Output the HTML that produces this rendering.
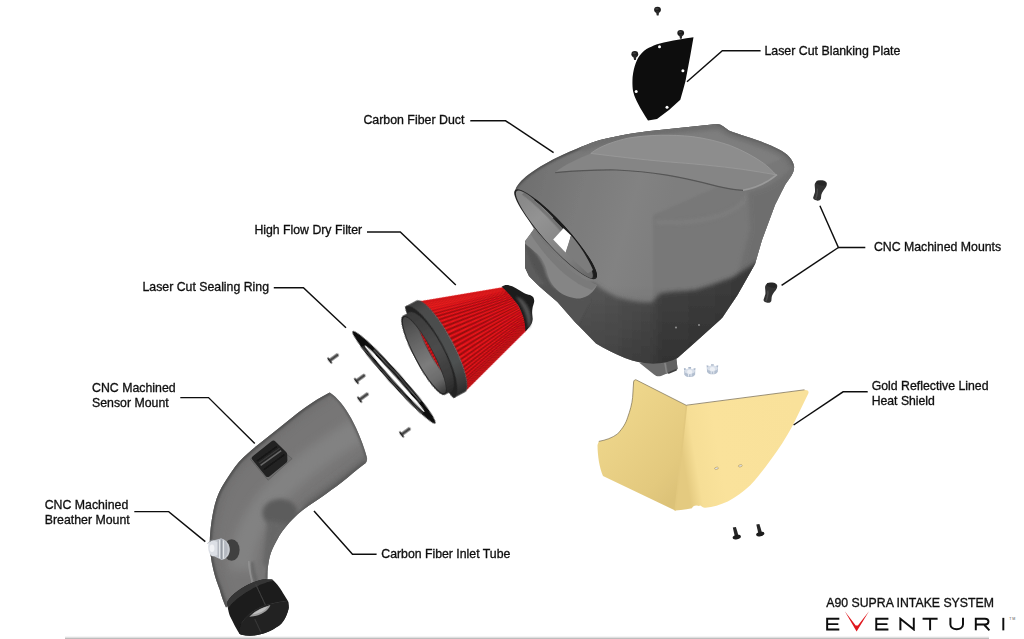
<!DOCTYPE html>
<html><head><meta charset="utf-8"><title>A90 Supra Intake System</title>
<style>html,body{margin:0;padding:0;background:#fff;overflow:hidden}svg{display:block}text{font-family:"Liberation Sans",sans-serif}</style>
</head><body>
<svg width="1024" height="639" viewBox="0 0 1024 639">
<defs>
<filter id="b05" x="-10%" y="-10%" width="120%" height="120%"><feGaussianBlur stdDeviation="0.5"/></filter>
<filter id="b1" x="-10%" y="-10%" width="120%" height="120%"><feGaussianBlur stdDeviation="1"/></filter>
<filter id="b2" x="-20%" y="-20%" width="140%" height="140%"><feGaussianBlur stdDeviation="2"/></filter>
<filter id="b4" x="-30%" y="-30%" width="160%" height="160%"><feGaussianBlur stdDeviation="4"/></filter>
<filter id="b8" x="-50%" y="-50%" width="200%" height="200%"><feGaussianBlur stdDeviation="8"/></filter>
<filter id="txt" x="-2%" y="-2%" width="104%" height="104%"><feGaussianBlur stdDeviation="0.3"/></filter>
<filter id="soft" x="-5%" y="-5%" width="110%" height="110%"><feGaussianBlur stdDeviation="0.45"/></filter>

<linearGradient id="ductTop" gradientUnits="userSpaceOnUse" x1="520" y1="200" x2="660" y2="240">
 <stop offset="0" stop-color="#707070"/><stop offset="0.35" stop-color="#7a7a7a"/><stop offset="0.75" stop-color="#828282"/><stop offset="1" stop-color="#7e7e7e"/>
</linearGradient>
<linearGradient id="ductLow" gradientUnits="userSpaceOnUse" x1="560" y1="300" x2="745" y2="300">
 <stop offset="0" stop-color="#5a5a5a"/><stop offset="0.3" stop-color="#525252"/><stop offset="0.5" stop-color="#4a4a4a"/><stop offset="0.53" stop-color="#424242"/><stop offset="1" stop-color="#383838"/>
</linearGradient>
<linearGradient id="ductLowV" gradientUnits="userSpaceOnUse" x1="0" y1="285" x2="0" y2="365">
 <stop offset="0" stop-color="#000" stop-opacity="0"/><stop offset="1" stop-color="#000" stop-opacity="0.22"/>
</linearGradient>
<linearGradient id="mouthInL" gradientUnits="userSpaceOnUse" x1="-58" y1="0" x2="58" y2="0">
 <stop offset="0" stop-color="#858585"/><stop offset="0.3" stop-color="#939393"/><stop offset="0.5" stop-color="#8a8a8a"/><stop offset="0.75" stop-color="#7c7c7c"/><stop offset="1" stop-color="#666"/>
</linearGradient>
<clipPath id="ductClip"><path id="ductPath" d="M515.5,189.5 C520,178 540,166 556,158 C575,149 590,143 600,140 C620,135 640,132 650,131 L717,124 C722,124 726,129 730,131 C740,135 760,140 775,147.5 C785,152 792,157 794,166 C795,172 790,178 785,185 C780,195 776,203 775,205 L762,240 755,264 737.5,295 722.5,317.5 720,320 695,342.5 677.5,358 C665,365 645,366 625,358 C615,354 605,349 596,343.5 L575,322 557.5,302 540,287 529,276 525,267.5 525,241 534,229 520,205Z"/></clipPath>

<linearGradient id="hsL" gradientUnits="userSpaceOnUse" x1="600" y1="400" x2="690" y2="480">
 <stop offset="0" stop-color="#f0d98e"/><stop offset="0.45" stop-color="#e9d085"/><stop offset="0.8" stop-color="#e3c97e"/><stop offset="1" stop-color="#dcc278"/>
</linearGradient>
<linearGradient id="hsR" gradientUnits="userSpaceOnUse" x1="680" y1="440" x2="800" y2="420">
 <stop offset="0" stop-color="#e4ca80"/><stop offset="0.1" stop-color="#f6de96"/><stop offset="0.3" stop-color="#fae29b"/><stop offset="1" stop-color="#f9e19a"/>
</linearGradient>

<linearGradient id="flangeG" gradientUnits="userSpaceOnUse" x1="-6" y1="-52" x2="-6" y2="52">
 <stop offset="0" stop-color="#3c3c3c"/><stop offset="0.12" stop-color="#4b4c4c"/><stop offset="0.7" stop-color="#4e5151"/><stop offset="0.9" stop-color="#3a3a3a"/><stop offset="1" stop-color="#2a2a2a"/>
</linearGradient>
<linearGradient id="neckOutG" gradientUnits="userSpaceOnUse" x1="-18" y1="-44" x2="-14" y2="44">
 <stop offset="0" stop-color="#3a3a3a"/><stop offset="0.5" stop-color="#4c4c4c"/><stop offset="0.85" stop-color="#3a3a3a"/><stop offset="1" stop-color="#2a2a2a"/>
</linearGradient>
<linearGradient id="neckIn" gradientUnits="userSpaceOnUse" x1="-30" y1="-42" x2="-24" y2="42">
 <stop offset="0" stop-color="#454545"/><stop offset="0.3" stop-color="#626262"/><stop offset="0.62" stop-color="#7c7c7c"/><stop offset="0.85" stop-color="#6a6a6a"/><stop offset="1" stop-color="#3e3e3e"/>
</linearGradient>

<clipPath id="tubeClip"><path d="M329.7,392.5 C337,397 345,407 351,418 C358,431 364,446 367,458 C367.5,461 366,463 364,464.3 C356,470.5 349,476.5 342.4,481.8 C335,487.5 328,492.5 320.9,497.4 L309,505.5 C301,511 295,516.5 289.4,522.5 C284,528.5 280,534 277,540 C273.5,546 271,551.5 269.5,557.5 C268,564 267.3,571 267.5,579 L226,607.5 C223,601 221.5,596 219.7,589.5 C216.5,581 214.5,575 213.3,569.5 C211,560 209.8,551 209.8,542 C210,530 212,516 214.7,505 C217,496 220.5,488.5 225,481.8 C229,475.5 233.5,468.5 238.7,462.2 C245,455.5 251,450.5 258.3,444.6 L277.8,428.9 C287,421.5 296,414 305.2,407.4 C313,402 321,397 329.7,392.5Z"/></clipPath>
<linearGradient id="tubeG" gradientUnits="userSpaceOnUse" x1="250" y1="440" x2="330" y2="520">
 <stop offset="0" stop-color="#585858"/><stop offset="0.18" stop-color="#6e6e6e"/><stop offset="0.45" stop-color="#7e7e7e"/><stop offset="0.7" stop-color="#707070"/><stop offset="1" stop-color="#4e4e4e"/>
</linearGradient>
</defs>
<rect width="1024" height="639" fill="#fff"/>

<g id="duct" filter="url(#soft)">
 <!-- protrusion below -->
 <path d="M639.6,363 L654,374.4 C656,376.2 658.6,376.8 661,376 L677.6,369 L676,356 Z" fill="#6b6b6b"/>
 <path d="M666.4,360 L668,373.2 677.6,369 676,356Z" fill="#626262"/>
 <path d="M664.6,361 L666.8,373.8" stroke="#858585" stroke-width="1.5" fill="none" filter="url(#b05)"/>
 <path d="M668,372.4 L676.6,368.8 676.8,370.4 668.4,374Z" fill="#3c3c3c"/>
 <g clip-path="url(#ductClip)">
  <rect x="500" y="110" width="310" height="280" fill="url(#ductTop)"/>
  <!-- right of crease -->
  <path d="M653,215 L800,150 800,300 653,305Z" fill="#787878" filter="url(#b1)"/>
  <!-- top-left outer edge darker band -->
  <path d="M513,192 C520,178 540,166 556,158 C575,149 590,143 600,140 C620,135 640,132 650,131 L717,124" fill="none" stroke="#4c4c4c" stroke-width="3.4" filter="url(#b1)"/>
  <!-- rim band near silhouette -->
  <path d="M580,147 C600,140 640,132 650,131 L717,124 C722,124 726,129 730,131 C740,135 760,140 775,147.5 C785,152 792,157 794,166" fill="none" stroke="#6e6e6e" stroke-width="11" filter="url(#b2)"/>
  <!-- leaves -->
  <path d="M555.2,172.2 C565,165 578,158.6 590.8,153.6 C615,156.6 640,159.6 667,162 C692,163.8 718,166.2 743,169.6 C754,171.2 765,173.2 776,175 C768,182 757,188 743,190 C734,189.6 726,188 717.7,186 C700,181.4 684,177.6 667,174.8 C650,172 633,170.2 616,169.6 C596,169.4 575,170.4 555.2,172.2Z" fill="#858585" filter="url(#b05)"/>
  <path d="M590.8,153.4 C600,146 615,141 628.8,138 C650,134.6 672,134.6 692.3,136.6 C706,138.4 719,141.6 730.4,145.6 C743,150.6 754,156.6 763.4,163.2 C768,166.6 772,170.4 776,174.8 C765,173 754,171 743,169.4 C718,166 692,163.6 667,161.8 C640,159.4 615,156.4 590.8,153.4Z" fill="#8d8d8d" stroke="#989898" stroke-width="0.9" filter="url(#b05)"/>
  <!-- crease lines -->
  <path d="M555.2,172.6 C575,170.8 596,169.8 616,170 C633,170.6 650,172.4 667,175.2 C684,178 700,181.8 717.7,186.4 C726,188.4 734,190 743,190.4" fill="none" stroke="#565656" stroke-width="1.2" filter="url(#b05)"/>
  <path d="M743,190.2 C757,188 768,182 777,174.6" fill="none" stroke="#9c9c9c" stroke-width="1.6" filter="url(#b05)"/>
  <path d="M748,194 C740,215 700,225 655,222" fill="none" stroke="#858585" stroke-width="3" opacity="0.6" filter="url(#b2)"/>
  <!-- right side face -->
  <path d="M748,192 C765,190 782,180 798,160 L800,200 760,290 735,285 750,230Z" fill="#6e6e6e" filter="url(#b2)"/>
  <!-- top right dark rim -->
  <path d="M717,124 C722,124 726,129 730,131 C740,135 760,140 775,147.5 C785,152 792,157 794,166" fill="none" stroke="#5c5c5c" stroke-width="2" filter="url(#b1)"/>
  <!-- lower dark band -->
  <path d="M588,284 L594,283 C602,290 610,294 618,297.5 C630,301 642,303 652,302.5 L660,293.5 C675,291 690,291 695,290 C710,286 722,281 732.5,277.5 L757,262 800,280 700,400 560,380 540,290Z" fill="url(#ductLow)" filter="url(#b2)"/>
  <path d="M540,284 L800,262 800,400 540,400Z" fill="url(#ductLowV)"/>
  <!-- region under the lip -->
  <path d="M520,240 L526,244 C534,250 540,258 544,268 C546,276 550,284 556,290 C566,297 576,299 584,298 L590,300 575,330 520,290Z" fill="#525252" filter="url(#b1)"/>
  <path d="M520,244 L527,250 C530,262 536,274 546,284 L520,290Z" fill="#5c5c5c" filter="url(#b1)"/>
  <!-- lip lighter band under mouth -->
  <path d="M524.5,243 L533.5,228.5 C548,252 572,276 597,285 C594,292 588,297 580,298.6 C570,298.4 562,295 556.5,289.5 C550,283 548,276 546.5,269.5 C544,261 540,255.5 535,252 C531,248.5 528,246 524.5,243Z" fill="#858585" filter="url(#b05)"/>
  <path d="M533.5,228.5 C548,252 572,276 597,285 L592,290 C568,282 546,258 530.5,234Z" fill="#777" opacity="0.8" filter="url(#b05)"/>
  <!-- small dots -->
  <circle cx="676" cy="327.5" r="1.1" fill="#8a8a8a"/><circle cx="699" cy="325" r="1.1" fill="#8a8a8a"/>
 </g>
 <!-- mouth -->
 <g transform="translate(555.6,234.2) rotate(47.6)">
  <ellipse cx="0" cy="0" rx="60" ry="12" fill="#242424"/>
  <clipPath id="mouthClip"><ellipse cx="0" cy="0" rx="59.5" ry="11.6"/></clipPath>
  <g clip-path="url(#mouthClip)">
   <ellipse cx="-0.5" cy="1.2" rx="57.6" ry="10.6" fill="url(#mouthInL)" transform="rotate(1.6)"/>
   <path d="M-52,-5.4 C-30,-9.6 -5,-10 20,-7.6 L20,-4.6 C-5,-6.6 -30,-6 -52,-2Z" fill="#5e5e5e" opacity="0.55" filter="url(#b05)"/>
  </g>
  <clipPath id="mouthClip2"><ellipse cx="0" cy="0" rx="60" ry="12"/></clipPath>
  <g clip-path="url(#mouthClip2)"><path d="M-14,-11.67 A60,12 0 0 1 59.8,-1" stroke="#1a1a1a" stroke-width="5.8" fill="none"/><path d="M-40,-8.94 A60,12 0 0 1 -14,-11.67" stroke="#1a1a1a" stroke-width="3.4" fill="none"/></g>
 </g>
</g>

<path d="M553.2,239.6 L563.5,228.2 571,235.6 565.6,252.6 Z" fill="#fff" filter="url(#soft)"/>
<path d="M565.8,252.6 L571.2,235.6 C580,246 588,258 593,270 L588,273.6 C582,268 572,259 565.8,252.6Z" fill="#7c7c7c" filter="url(#soft)"/>

<g id="plate">
 <path d="M693.5,37.3 C685,38.5 672,40.5 659,43.8 C652,46 645,49 641,54 C637,58 634,66 632.6,77 C632.2,84 632.6,90 633.6,93 C635,99 640,108 648,120.6 L657,119 C661,116 665,113 669,110 L680.3,99.8 C682,94 684,87 685.4,81.5 L690.4,55Z" fill="#0d0d0d"/>
 <circle cx="659.5" cy="46.8" r="1.5" fill="#fff"/><circle cx="682.9" cy="70.7" r="1.5" fill="#fff"/>
 <circle cx="636.2" cy="91.6" r="1.5" fill="#fff"/><circle cx="667" cy="107.3" r="1.5" fill="#fff"/>
</g>
<g transform="translate(657.5,9.8) scale(1.1)" filter="url(#soft)"><ellipse cx="0" cy="0" rx="3.1" ry="2.8" fill="#1c1c1c"/><path d="M-1.6,1 L1.6,1 1,5.2 -0.6,5.2Z" fill="#2a2a2a"/><ellipse cx="-0.5" cy="-0.8" rx="1.6" ry="1" fill="#3a3a3a"/></g>
<g transform="translate(680.7,33) scale(1.1)" filter="url(#soft)"><ellipse cx="0" cy="0" rx="3.1" ry="2.8" fill="#1c1c1c"/><path d="M-1.6,1 L1.6,1 1,5.2 -0.6,5.2Z" fill="#2a2a2a"/><ellipse cx="-0.5" cy="-0.8" rx="1.6" ry="1" fill="#3a3a3a"/></g>
<g transform="translate(634.8,54.2) scale(1.1)" filter="url(#soft)"><ellipse cx="0" cy="0" rx="3.1" ry="2.8" fill="#1c1c1c"/><path d="M-1.6,1 L1.6,1 1,5.2 -0.6,5.2Z" fill="#2a2a2a"/><ellipse cx="-0.5" cy="-0.8" rx="1.6" ry="1" fill="#3a3a3a"/></g>
<g transform="translate(820,190.5)" filter="url(#soft)">
 <path d="M-5.3,-4.9 C-5.5,-8 -3,-9.8 0.6,-10.2 C4,-10.4 6.8,-9 6.9,-6.7 C6.8,-4 5,-2 3.8,-0.5 C2.4,1.6 1.6,3 1.3,4.5 L0.9,8.3 C0.4,10 -2,10.6 -3.1,10.1 C-5.4,9.6 -7,8.4 -6.9,7.3 L-5,1.4 C-4.8,-0.6 -5.2,-3 -5.3,-4.9Z" fill="#303030"/>
 <ellipse cx="1" cy="-7.4" rx="5" ry="2.2" fill="#262626" transform="rotate(12 1 -7.4)"/>
 <path d="M-2.6,-2 C-2,2 -3.4,6 -4.4,8.6" stroke="#484848" stroke-width="1.6" fill="none" filter="url(#b05)"/>
</g>
<g transform="translate(770.4,292.6)" filter="url(#soft)">
 <path d="M-5.3,-4.9 C-5.5,-8 -3,-9.8 0.6,-10.2 C4,-10.4 6.8,-9 6.9,-6.7 C6.8,-4 5,-2 3.8,-0.5 C2.4,1.6 1.6,3 1.3,4.5 L0.9,8.3 C0.4,10 -2,10.6 -3.1,10.1 C-5.4,9.6 -7,8.4 -6.9,7.3 L-5,1.4 C-4.8,-0.6 -5.2,-3 -5.3,-4.9Z" fill="#303030"/>
 <ellipse cx="1" cy="-7.4" rx="5" ry="2.2" fill="#262626" transform="rotate(12 1 -7.4)"/>
 <path d="M-2.6,-2 C-2,2 -3.4,6 -4.4,8.6" stroke="#484848" stroke-width="1.6" fill="none" filter="url(#b05)"/>
</g>
<g transform="translate(689.7,372.6)" filter="url(#soft)">
 <path d="M-5.6,-2.2 L-5.4,1.6 C-4.6,5.4 4.6,5.4 5.4,1.6 L5.6,-2.2Z" fill="#b3bfd0"/>
 <path d="M-5.6,-2.4 L-5.8,-4.6 -3.8,-4 -3.2,-2 Z M5.6,-2.4 L5.8,-4.6 3.8,-4 3.2,-2Z M-1.2,-3 L-1.4,-5.6 1.4,-5.6 1.2,-3Z" fill="#a9b6c9"/>
 <ellipse cx="0" cy="-1.6" rx="5.2" ry="2.6" fill="#d8dfea"/>
 <ellipse cx="0" cy="-0.6" rx="2.6" ry="2.2" fill="#eef1f6"/>
 <path d="M-1.2,0.6 L-1.2,4 M1.4,0.6 L1.4,4" stroke="#e4e9f1" stroke-width="1" fill="none"/>
</g>
<g transform="translate(712.4,369.8)" filter="url(#soft)">
 <path d="M-5.6,-2.2 L-5.4,1.6 C-4.6,5.4 4.6,5.4 5.4,1.6 L5.6,-2.2Z" fill="#b3bfd0"/>
 <path d="M-5.6,-2.4 L-5.8,-4.6 -3.8,-4 -3.2,-2 Z M5.6,-2.4 L5.8,-4.6 3.8,-4 3.2,-2Z M-1.2,-3 L-1.4,-5.6 1.4,-5.6 1.2,-3Z" fill="#a9b6c9"/>
 <ellipse cx="0" cy="-1.6" rx="5.2" ry="2.6" fill="#d8dfea"/>
 <ellipse cx="0" cy="-0.6" rx="2.6" ry="2.2" fill="#eef1f6"/>
 <path d="M-1.2,0.6 L-1.2,4 M1.4,0.6 L1.4,4" stroke="#e4e9f1" stroke-width="1" fill="none"/>
</g>

<g id="shield" filter="url(#soft)">
 <path d="M636.4,380 L686.5,405.4 L675.2,510.5 L603,476 C599.5,468 597.6,456 597.5,445 L598.8,441.4 C606,440 612,438 617.6,433.9 C623,428 626,423 627.6,417.6 C630,411 632,404 632.6,397.6 L633.6,382 C634,380 635,379.4 636.4,380Z" fill="url(#hsL)"/>
 <path d="M686.5,405.4 L804.5,390 C807.5,389.7 809.3,391.2 808.3,393.4 L793,425.1 C786,438 779,449 770.4,460.2 C764,469 757,478 750.3,485.3 C743,492 736,497 727.8,501.5 C720,505 713,507 705.3,507.8 C703,508 702,506.5 700.4,505.6 C699,505.6 698.4,506.4 697.7,507 C690,509 683,510 675.2,510.5Z" fill="url(#hsR)"/>
 <path d="M686.5,405.4 L675.2,510.5" stroke="#e2c87e" stroke-width="1.6" fill="none"/><ellipse cx="696.4" cy="509.4" rx="4.6" ry="4" fill="#fff"/>
 <path d="M598.8,441.4 C606,440 612,438 617.6,433.9 C623,428 626,423 627.6,417.6 C630,411 632,404 632.6,397.6 L633.6,382 C634,380 635,379.4 636.4,380 L686.5,405.4" stroke="#6b6046" stroke-width="0.8" fill="none" opacity="0.8"/><path d="M686.5,405.2 L804.5,389.8" stroke="#7d7052" stroke-width="0.9" fill="none" opacity="0.85"/>
 <ellipse cx="716.5" cy="468.3" rx="2" ry="1.1" fill="#dfe3ea" stroke="#b59c5c" stroke-width="0.6" transform="rotate(-15 716.5 468.3)"/>
 <ellipse cx="740.3" cy="465.8" rx="2" ry="1.1" fill="#dfe3ea" stroke="#b59c5c" stroke-width="0.6" transform="rotate(-15 740.3 465.8)"/>
</g>
<g transform="translate(736.7,536.8)" filter="url(#soft)"><path d="M-3.9,-9.3 L-0.8,-9.9 2,-0.6 -1.8,0Z" fill="#262626"/><ellipse cx="0" cy="0.3" rx="4.2" ry="2.1" fill="#1a1a1a" transform="rotate(-12)"/></g>
<g transform="translate(760.2,533.8)" filter="url(#soft)"><path d="M-3.9,-9.3 L-0.8,-9.9 2,-0.6 -1.8,0Z" fill="#262626"/><ellipse cx="0" cy="0.3" rx="4.2" ry="2.1" fill="#1a1a1a" transform="rotate(-12)"/></g>
<g id="filter" transform="translate(440.7,346.9) rotate(-28)">
<clipPath id="coneClip"><path d="M0,-51.0 L82.5,-23.6 A5.95,24.8 0 0 1 82.5,26.0 L0,51.0 A12.24,51.0 0 0 0 0,-51.0Z"/></clipPath>
<path d="M0,-51.0 L82.5,-23.6 A5.95,24.8 0 0 1 82.5,26.0 L0,51.0 A12.24,51.0 0 0 0 0,-51.0Z" fill="#ea181c" filter="url(#soft)"/>
<g clip-path="url(#coneClip)" filter="url(#soft)">
<path d="M0.25,-50.99 L82.62,-23.59 82.90,-23.55 0.81,-50.89Z M1.38,-50.68 L83.17,-23.44 83.44,-23.29 1.94,-50.36Z M2.49,-49.93 L83.71,-23.08 83.98,-22.82 3.04,-49.40Z M3.59,-48.76 L84.24,-22.51 84.51,-22.15 4.12,-48.02Z M4.65,-47.17 L84.76,-21.74 85.01,-21.28 5.17,-46.23Z M5.68,-45.18 L85.26,-20.77 85.50,-20.22 6.17,-44.04Z M6.65,-42.81 L85.74,-19.62 85.96,-18.97 7.12,-41.48Z M7.57,-40.07 L86.18,-18.28 86.39,-17.55 8.01,-38.57Z M8.43,-36.98 L86.60,-16.78 86.79,-15.98 8.83,-35.32Z M9.21,-33.59 L86.98,-15.13 87.16,-14.25 9.57,-31.78Z M9.92,-29.90 L87.32,-13.34 87.48,-12.40 10.24,-27.96Z M10.54,-25.96 L87.62,-11.42 87.76,-10.42 10.81,-23.91Z M11.07,-21.80 L87.88,-9.40 87.99,-8.35 11.30,-19.65Z M11.50,-17.45 L88.09,-7.29 88.18,-6.20 11.68,-15.22Z M11.84,-12.96 L88.26,-5.10 88.32,-3.99 11.97,-10.66Z M12.07,-8.35 L88.37,-2.86 88.41,-1.73 12.15,-6.02Z M12.21,-3.67 L88.44,-0.59 88.45,0.56 12.24,-1.32Z M12.24,1.04 L88.45,1.70 88.44,2.85 12.21,3.39Z M12.16,5.74 L88.41,3.99 88.38,5.12 12.09,8.07Z M11.98,10.39 L88.33,6.25 88.27,7.37 11.86,12.68Z M11.70,14.95 L88.19,8.47 88.10,9.56 11.52,17.19Z M11.32,19.39 L88.01,10.63 87.89,11.68 11.09,21.54Z M10.84,23.66 L87.77,12.70 87.64,13.71 10.57,25.72Z M10.27,27.72 L87.50,14.68 87.34,15.63 9.96,29.67Z M9.62,31.56 L87.18,16.54 87.00,17.43 9.26,33.37Z M8.88,35.12 L86.82,18.28 86.62,19.09 8.48,36.79Z M8.06,38.38 L86.42,19.86 86.21,20.60 7.63,39.89Z M7.18,41.32 L85.99,21.29 85.76,21.94 6.71,42.65Z M6.23,43.90 L85.53,22.55 85.29,23.11 5.74,45.05Z M5.23,46.11 L85.04,23.62 84.79,24.09 4.72,47.06Z M4.19,47.92 L84.54,24.50 84.28,24.87 3.65,48.68Z M3.11,49.33 L84.01,25.19 83.74,25.45 2.56,49.87Z M2.00,50.31 L83.47,25.67 83.20,25.83 1.44,50.64Z M0.88,50.87 L82.93,25.94 82.65,25.99 0.32,50.98Z" fill="#960a10"/>
<path d="M0,-51.0 L82.5,-24.8 L82.5,-17.8 L0,-37.0Z" fill="#ee1a1c" opacity="0.55" filter="url(#b2)"/>
<path d="M0,51.0 L82.5,24.8 L82.5,18.8 L0,41.0Z" fill="#b00d12" opacity="0.4" filter="url(#b2)"/>
</g>
<g transform="translate(0,-0.5)">
<path d="M-12,-51.7 L0.3,-51.7 A12.40,51.7 0 0 1 0.3,51.7 L-12,51.7 A4.00,51.7 0 0 1 -12,-51.7Z" fill="url(#flangeG)" filter="url(#soft)"/>
<path d="M-12,-51.7 A14.6,51.7 0 0 1 -12,51.7 A4,51.7 0 0 1 -12,-51.7Z" fill="#242424" filter="url(#soft)"/>
<path d="M-18.6,-44.6 L-12,-45 A13.40,45 0 0 1 -12,45 L-18.6,44.6 A9.40,44.6 0 0 1 -18.6,-44.6Z" fill="url(#neckOutG)" filter="url(#soft)"/>
<ellipse cx="-18.6" cy="0" rx="9.4" ry="44.6" fill="#222" filter="url(#soft)"/>
<clipPath id="neckClip"><ellipse cx="-18.3" cy="0.1" rx="8.7" ry="43"/></clipPath>
<g clip-path="url(#neckClip)" filter="url(#soft)">
<rect x="-40" y="-50" width="50" height="100" fill="url(#neckIn)"/>
<ellipse cx="-3" cy="-1.8" rx="9.8" ry="40.5" fill="#383838"/>
<ellipse cx="-2.6" cy="-1.8" rx="9.6" ry="39.8" fill="#d8141a"/>
<clipPath id="deepClip"><ellipse cx="-2.6" cy="-1.8" rx="9.6" ry="39.8"/></clipPath><g clip-path="url(#deepClip)">
<path d="M-20,-38.0 L2,-40.0" stroke="#8e0a0e" stroke-width="1.3" fill="none"/>
<path d="M-20,-34.6 L2,-36.6" stroke="#8e0a0e" stroke-width="1.3" fill="none"/>
<path d="M-20,-31.2 L2,-33.2" stroke="#8e0a0e" stroke-width="1.3" fill="none"/>
<path d="M-20,-27.8 L2,-29.8" stroke="#8e0a0e" stroke-width="1.3" fill="none"/>
<path d="M-20,-24.4 L2,-26.4" stroke="#8e0a0e" stroke-width="1.3" fill="none"/>
<path d="M-20,-21.0 L2,-23.0" stroke="#8e0a0e" stroke-width="1.3" fill="none"/>
<path d="M-20,-17.6 L2,-19.6" stroke="#8e0a0e" stroke-width="1.3" fill="none"/>
<path d="M-20,-14.2 L2,-16.2" stroke="#8e0a0e" stroke-width="1.3" fill="none"/>
<path d="M-20,-10.8 L2,-12.8" stroke="#8e0a0e" stroke-width="1.3" fill="none"/>
<path d="M-20,-7.4 L2,-9.4" stroke="#8e0a0e" stroke-width="1.3" fill="none"/>
<path d="M-20,-4.0 L2,-6.0" stroke="#8e0a0e" stroke-width="1.3" fill="none"/>
<path d="M-20,-0.6 L2,-2.6" stroke="#8e0a0e" stroke-width="1.3" fill="none"/>
<path d="M-20,2.8 L2,0.8" stroke="#8e0a0e" stroke-width="1.3" fill="none"/>
<path d="M-20,6.2 L2,4.2" stroke="#8e0a0e" stroke-width="1.3" fill="none"/>
<path d="M-20,9.6 L2,7.6" stroke="#8e0a0e" stroke-width="1.3" fill="none"/>
<path d="M-20,13.0 L2,11.0" stroke="#8e0a0e" stroke-width="1.3" fill="none"/>
<path d="M-20,16.4 L2,14.4" stroke="#8e0a0e" stroke-width="1.3" fill="none"/>
<path d="M-20,19.8 L2,17.8" stroke="#8e0a0e" stroke-width="1.3" fill="none"/>
<path d="M-20,23.2 L2,21.2" stroke="#8e0a0e" stroke-width="1.3" fill="none"/>
<path d="M-20,26.6 L2,24.6" stroke="#8e0a0e" stroke-width="1.3" fill="none"/>
<path d="M-20,30.0 L2,28.0" stroke="#8e0a0e" stroke-width="1.3" fill="none"/>
<path d="M-20,33.4 L2,31.4" stroke="#8e0a0e" stroke-width="1.3" fill="none"/>
<path d="M-20,36.8 L2,34.8" stroke="#8e0a0e" stroke-width="1.3" fill="none"/>
<path d="M-20,40.2 L2,38.2" stroke="#8e0a0e" stroke-width="1.3" fill="none"/>
</g>
</g>
</g>
</g>
<g id="cap" filter="url(#soft)">
<path d="M501.6,286.8 C504,285 506,284.7 508,285.1 C511,285.9 513.5,286.9 516,288.2 C519,289.9 521.5,291.5 524,292.9 C526,294.1 528,294.5 530,295.1 C532,295.9 533.3,296.9 533.8,298.5 C534.3,300 534.3,301.6 533.9,303 L532.7,307 C532.3,309 532.1,311 532.1,313 L532.7,319 C532.5,322 531.5,324 530.1,326 C528.7,328.2 527,330 525.2,331.4 C525.6,326 524.2,318 521.8,313 C519.8,308 517.8,304 514.8,301 C510.8,296 506.8,291.2 501.6,286.8Z" fill="#1f1f1f"/>
<path d="M522.6,300 C527.6,305 530.6,311 531,318 C531.2,322 530.4,325.6 528.6,328.4 C527.8,322 526,315 523.6,309.6 C521.6,305 519,300.6 516,297 C518.6,297.4 520.8,298.4 522.6,300Z" fill="#505050" filter="url(#b1)"/>
</g>

<g id="ring" transform="translate(394,377.3) rotate(48.1)" filter="url(#soft)">
 <ellipse cx="0" cy="0" rx="62" ry="6.2" fill="#0e0e0e"/>
 <ellipse cx="1.5" cy="0.45" rx="44.5" ry="1.95" fill="#fff"/>
 <path d="M-34,-3.1 A52,3.9 0 0 1 36,-3.1" fill="none" stroke="#d8d8d8" stroke-width="0.5" opacity="0.85"/>
 <path d="M-44,2.9 A55,4.2 0 0 0 46,2.9" fill="none" stroke="#4a4a4a" stroke-width="1"/>
</g>
<g transform="translate(333.9,357.5) rotate(-36)" filter="url(#soft)"><path d="M-4.6,-1.55 L4.9,-1.45 C5.6,-1.3 5.6,1.3 4.9,1.45 L-4.6,1.55Z" fill="#333"/><path d="M-4.2,-0.1 L4.8,-0.1" stroke="#626262" stroke-width="0.9"/><path d="M-5.9,-3.3 C-5.2,-3.7 -4.6,-3.5 -4.4,-3.2 L-4.4,3.2 C-4.6,3.5 -5.2,3.7 -5.9,3.3 C-6.3,1.6 -6.3,-1.6 -5.9,-3.3Z" fill="#1e1e1e"/></g>
<g transform="translate(360.6,378) rotate(-36)" filter="url(#soft)"><path d="M-4.6,-1.55 L4.9,-1.45 C5.6,-1.3 5.6,1.3 4.9,1.45 L-4.6,1.55Z" fill="#333"/><path d="M-4.2,-0.1 L4.8,-0.1" stroke="#626262" stroke-width="0.9"/><path d="M-5.9,-3.3 C-5.2,-3.7 -4.6,-3.5 -4.4,-3.2 L-4.4,3.2 C-4.6,3.5 -5.2,3.7 -5.9,3.3 C-6.3,1.6 -6.3,-1.6 -5.9,-3.3Z" fill="#1e1e1e"/></g>
<g transform="translate(363.8,396.6) rotate(-36)" filter="url(#soft)"><path d="M-4.6,-1.55 L4.9,-1.45 C5.6,-1.3 5.6,1.3 4.9,1.45 L-4.6,1.55Z" fill="#333"/><path d="M-4.2,-0.1 L4.8,-0.1" stroke="#626262" stroke-width="0.9"/><path d="M-5.9,-3.3 C-5.2,-3.7 -4.6,-3.5 -4.4,-3.2 L-4.4,3.2 C-4.6,3.5 -5.2,3.7 -5.9,3.3 C-6.3,1.6 -6.3,-1.6 -5.9,-3.3Z" fill="#1e1e1e"/></g>
<g transform="translate(405.8,431.4) rotate(-36)" filter="url(#soft)"><path d="M-4.6,-1.55 L4.9,-1.45 C5.6,-1.3 5.6,1.3 4.9,1.45 L-4.6,1.55Z" fill="#333"/><path d="M-4.2,-0.1 L4.8,-0.1" stroke="#626262" stroke-width="0.9"/><path d="M-5.9,-3.3 C-5.2,-3.7 -4.6,-3.5 -4.4,-3.2 L-4.4,3.2 C-4.6,3.5 -5.2,3.7 -5.9,3.3 C-6.3,1.6 -6.3,-1.6 -5.9,-3.3Z" fill="#1e1e1e"/></g>

<g id="tube" filter="url(#soft)">
 <g clip-path="url(#tubeClip)">
  <rect x="200" y="385" width="175" height="230" fill="#777676"/>
  <!-- broad highlight along upper segment -->
  <path d="M358,430 C326,449 293,472 271,498 C252,520 242,546 241,570" fill="none" stroke="#828282" stroke-width="24" filter="url(#b4)"/>
  <!-- lower-right shading of upper segment -->
  <path d="M372,462 C350,480 325,498 305,512" fill="none" stroke="#5e5e5e" stroke-width="14" filter="url(#b4)"/>
  <!-- top-left rim dark -->
  <path d="M329.7,392.5 C321,397 313,402 305.2,407.4 C296,414 287,421.5 277.8,428.9 L258.3,444.6 C251,450.5 245,455.5 238.7,462.2 C233.5,468.5 229,475.5 225,481.8 C220.5,488.5 217,496 214.7,505 C212,516 210,530 209.8,542 C209.8,551 211,560 213.3,569.5 C214.5,575 216.5,581 219.7,589.5 L226,607.5" fill="none" stroke="#4a4a4a" stroke-width="4.2" filter="url(#b1)"/>
  <path d="M329.7,392.5 C313,402 296,414 277.8,428.9 L258.3,444.6 C245,455.5 233.5,468.5 225,481.8 C217,496 210,530 209.8,542 C209.8,560 214.5,575 226,607.5" fill="none" stroke="#646464" stroke-width="12" opacity="0.35" filter="url(#b4)"/>
  <!-- right end rim -->
  <path d="M329.7,392.5 C337,397 345,407 351,418 C358,431 364,446 367,458" fill="none" stroke="#5a5a5a" stroke-width="3" filter="url(#b1)"/>
  <path d="M366,462 C350,475 335,487 320.9,497.4 L309,505.5 C295,516.5 284,528.5 277,540 C271,551.5 267.3,571 267.5,579" fill="none" stroke="#5a5a5a" stroke-width="3.5" filter="url(#b1)"/>
  <!-- dark blob on inner bend -->
  <ellipse cx="280" cy="513" rx="17.5" ry="14" fill="#5c5c5c" filter="url(#b2)"/>
  <path d="M268,520 C266,535 264,550 263,566 L272,566 C273,550 278,536 288,524Z" fill="#666" filter="url(#b2)"/>
  <!-- crease highlight near coupler -->
  <path d="M248.5,561 C249.5,570 251,578 253.5,586" fill="none" stroke="#929292" stroke-width="2" opacity="0.9" filter="url(#b05)"/>
  <path d="M252,562 C253,572 256,582 260,590" fill="none" stroke="#656565" stroke-width="3.5" opacity="0.8" filter="url(#b1)"/>
 </g>
 <!-- sensor mount -->
 <path d="M250.3,459.1 L271,442.2 292.1,458.6 268.2,480.2Z" fill="#707070" stroke="#585858" stroke-width="0.6"/>
 <path d="M252.2,459.6 C251.4,458.4 251.6,457.2 252.8,456.2 L271.6,441.2 C272.8,440.2 274.4,440.4 275.4,441.4 L285.6,451.6 C286.6,452.6 287.2,453.6 287.2,455 L287.4,460 C287.4,461.2 287,462 286.2,462.8 L269.4,476.4 C268.2,477.4 266.8,477.2 265.8,476.2Z" fill="#222"/>
 <path d="M257,461 L277,446.4 M263.8,469.8 L284.2,454.6" stroke="#141414" stroke-width="1.4" fill="none"/>
 <path d="M260.6,465.4 L281.2,450.6" stroke="#686868" stroke-width="1.5" fill="none"/>
 <path d="M259,463 L279.6,448.2" stroke="#383838" stroke-width="1.2" fill="none"/>
</g>
<!-- breather -->
<g id="breather" filter="url(#soft)">
 <ellipse cx="231.6" cy="550" rx="8" ry="10.8" fill="#404040" filter="url(#b05)"/>
 <path d="M213,540.4 L221,538.4 C226.5,539.4 230,544.6 229.8,550 C229.6,555.4 226,559.6 221.4,559.8 L213.4,556Z" fill="#c6cad0"/>
 <path d="M208.2,546.4 C208.2,542.4 210.6,540.2 213.4,540.4 L217.6,542 217.6,555 213.6,556.2 C210.4,556.2 208.2,552.6 208.2,546.4Z" fill="#dcdfe5"/>
 <path d="M217.6,540 L221,538.6 C225.4,540 227.6,544.6 227.6,549.6 C227.6,554.4 225.4,558.4 222,559.4 L217.6,556.6Z" fill="#b4b8c0"/>
 <ellipse cx="212" cy="548.2" rx="2.4" ry="3.8" fill="#f1f2f5"/>
 <path d="M219.6,539.8 L219.6,558 M223.6,540.4 L223.6,558.8" stroke="#eef0f3" stroke-width="0.9" fill="none"/>
 <path d="M221.6,539.4 L221.6,559" stroke="#8a8f98" stroke-width="0.8" fill="none"/>
 <path d="M207.6,544 C209,540.6 211.6,540 213.2,540.2" fill="none" stroke="#9aa0aa" stroke-width="0.6"/>
</g>
<!-- coupler -->
<g id="coupler" filter="url(#soft)">
 <path d="M227.2,602 C230,597 233.6,594 237.6,591 C242.4,587.4 247.4,584.6 252.8,582.4 C257.6,580.6 262,579.6 264.8,579.3 L272.2,579.4 C275.6,582.2 278.6,586 281,589.8 C284.2,595 286.8,599 288.4,602 C288.9,604.4 288.9,607 288.4,609.4 C287.2,614 285.4,618.2 283,621.6 C280.6,625 278.4,626.2 276.8,627 C272,630.6 266,633.2 259.6,634.6 C253.6,635.9 247.4,636 241.6,634.8 L239.6,634 C236.4,629.4 233.2,622.6 229.8,615.8 C228.4,611.6 227.4,606.8 227.2,602Z" fill="#1a1a1a"/>
 <path d="M227.2,602 C230,597 233.6,594 237.6,591 C242.4,587.4 247.4,584.6 252.8,582.4 C257.6,580.6 262,579.6 264.8,579.3 L272.2,579.4 L273.4,581 C262,582 237,595.4 228.2,608Z" fill="#353535"/>
 <path d="M241.6,623.4 C247,614.6 256,608.6 265.4,605.6 C272,603.5 280,601.8 287.4,601.2" fill="none" stroke="#3d3d3d" stroke-width="0.9"/>
 <path d="M241.6,623.4 C247,614.6 256,608.6 265.4,605.6 C272,603.5 280,601.8 287.4,601.2 L288.4,606 C288.9,607 288.9,608 288.4,609.4 C287.2,614 285.4,618.2 283,621.6 C280.6,625 278.4,626.2 276.8,627 C272,630.6 266,633.2 259.6,634.6 C253.6,635.9 247.4,636 241.6,634.8 L239.6,634 C239,630 240,626 241.6,623.4Z" fill="#222"/>
 <path d="M249.3,616.8 C254,611.4 262,607.4 270.4,605.1 C268.6,611.4 258.6,616.8 249.3,616.8Z" fill="#9e9e9e"/>
 <path d="M252.6,614.2 C257,610.4 262,608 267.6,606.4 C265.4,610.6 258.4,614 252.6,614.2Z" fill="#c0c0c0"/>
 <path d="M255.6,584 L265.4,605" stroke="#3e3e3e" stroke-width="1.2" fill="none"/>
 <path d="M254.8,619 L261,632.6" stroke="#363636" stroke-width="1.2" fill="none"/>
</g>
<g id="labels" filter="url(#txt)">
<text x="764.4" y="55.1" font-size="12.1" textLength="136" lengthAdjust="spacingAndGlyphs" fill="#101010" stroke="#101010" stroke-width="0.32">Laser Cut Blanking Plate</text>
<polyline points="687,81.8 722.3,50.8 760.6,50.8" fill="none" stroke="#101010" stroke-width="1.45" stroke-linejoin="miter"/>
<text x="363.4" y="124.05" font-size="12.1" textLength="101" lengthAdjust="spacingAndGlyphs" fill="#101010" stroke="#101010" stroke-width="0.32">Carbon Fiber Duct</text>
<polyline points="470.3,120.8 505.6,120.8 553.6,152.6" fill="none" stroke="#101010" stroke-width="1.45" stroke-linejoin="miter"/>
<text x="254.4" y="233.9" font-size="12.1" textLength="107.8" lengthAdjust="spacingAndGlyphs" fill="#101010" stroke="#101010" stroke-width="0.32">High Flow Dry Filter</text>
<polyline points="367,232 400.3,232 455.8,285" fill="none" stroke="#101010" stroke-width="1.45" stroke-linejoin="miter"/>
<text x="142.5" y="290.7" font-size="12.1" textLength="126.5" lengthAdjust="spacingAndGlyphs" fill="#101010" stroke="#101010" stroke-width="0.32">Laser Cut Sealing Ring</text>
<polyline points="273.8,287.7 303.4,287.7 346,327.8" fill="none" stroke="#101010" stroke-width="1.45" stroke-linejoin="miter"/>
<text x="92" y="392.1" font-size="12.1" textLength="83.6" lengthAdjust="spacingAndGlyphs" fill="#101010" stroke="#101010" stroke-width="0.32">CNC Machined</text>
<text x="92" y="407.1" font-size="12.1" textLength="76.7" lengthAdjust="spacingAndGlyphs" fill="#101010" stroke="#101010" stroke-width="0.32">Sensor Mount</text>
<polyline points="180.3,397.6 208.5,397.6 254.8,443.6" fill="none" stroke="#101010" stroke-width="1.45" stroke-linejoin="miter"/>
<text x="44.7" y="508.95" font-size="12.1" textLength="83.6" lengthAdjust="spacingAndGlyphs" fill="#101010" stroke="#101010" stroke-width="0.32">CNC Machined</text>
<text x="44.7" y="524.05" font-size="12.1" textLength="85" lengthAdjust="spacingAndGlyphs" fill="#101010" stroke="#101010" stroke-width="0.32">Breather Mount</text>
<polyline points="134.3,511.6 168.7,511.6 205.3,541.6" fill="none" stroke="#101010" stroke-width="1.45" stroke-linejoin="miter"/>
<text x="381.3" y="557.85" font-size="12.1" textLength="129" lengthAdjust="spacingAndGlyphs" fill="#101010" stroke="#101010" stroke-width="0.32">Carbon Fiber Inlet Tube</text>
<polyline points="314,511 352.5,554.2 376.6,554.2" fill="none" stroke="#101010" stroke-width="1.45" stroke-linejoin="miter"/>
<text x="873.9" y="251.25" font-size="12.1" textLength="127.3" lengthAdjust="spacingAndGlyphs" fill="#101010" stroke="#101010" stroke-width="0.32">CNC Machined Mounts</text>
<polyline points="819.9,205.8 838.4,247.5 865.3,247.5" fill="none" stroke="#101010" stroke-width="1.45" stroke-linejoin="miter"/>
<polyline points="838.4,247.5 781.6,285.3" fill="none" stroke="#101010" stroke-width="1.45" stroke-linejoin="miter"/>
<text x="871.7" y="389.7" font-size="12.1" textLength="116.8" lengthAdjust="spacingAndGlyphs" fill="#101010" stroke="#101010" stroke-width="0.32">Gold Reflective Lined</text>
<text x="871.7" y="404.7" font-size="12.1" textLength="63.2" lengthAdjust="spacingAndGlyphs" fill="#101010" stroke="#101010" stroke-width="0.32">Heat Shield</text>
<polyline points="793.6,425 843.1,391.8 867.7,391.8" fill="none" stroke="#101010" stroke-width="1.45" stroke-linejoin="miter"/>
<text x="826.3" y="606.6" font-size="12.1" textLength="167.6" lengthAdjust="spacingAndGlyphs" fill="#101010" stroke="#101010" stroke-width="0.32">A90 SUPRA INTAKE SYSTEM</text>
</g>
<g id="logo" fill="none" stroke="#0c0c0c" stroke-width="1.95" stroke-linecap="butt" stroke-linejoin="miter" filter="url(#soft)"><path d="M839.3,618.7 L827.15,618.7 L827.15,629.5 L839.3,629.5 M827.15,624.1 L838.3,624.1"/><path d="M888.4,618.7 L876.25,618.7 L876.25,629.5 L888.4,629.5 M876.25,624.1 L887.4,624.1"/><path d="M900.4,630.35 L900.4,618.7 L913.8,629.5 L913.8,617.85"/><path d="M922.6,618.7 L937.6,618.7 M930.1,618.7 L930.1,630.35"/><path d="M950.4,617.85 L950.4,624.5 C950.4,630.7 963,630.7 963,624.5 L963,617.85"/><path d="M975.8,630.35 L975.8,618.7 L985,618.7 C989.6,618.7 989.6,624.5 985,624.5 L975.8,624.5 M984,624.5 L989.4,630.35"/><path d="M1003.3,617.85 L1003.3,630.35"/></g><path d="M844.8,611.2 L856.6,631.4 L869,611.2 L857.9,625.4 L855.7,625.4Z" fill="#e0161c" filter="url(#soft)"/><text x="1009.2" y="619.6" font-size="3.6" fill="#555" textLength="6">TM</text>
<rect x="65" y="637.4" width="924" height="1.6" fill="#bdbdbd"/>
<rect x="65" y="636.6" width="924" height="1" fill="#e6e6e6"/>
</svg>
</body></html>
